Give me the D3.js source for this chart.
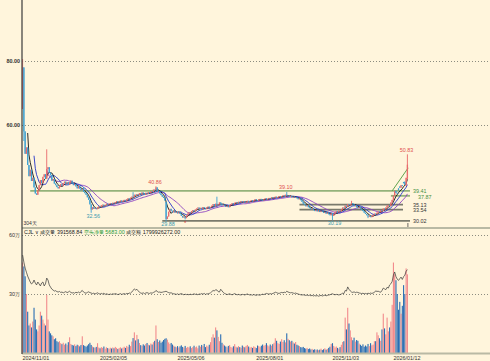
<!DOCTYPE html>
<html>
<head>
<meta charset="utf-8">
<title>K线 成交量</title>
<script src="https://d3js.org/d3.v7.min.js"></script>
<style>
body { margin: 0; background: #fff5dc; }
svg { display: block; font-family: "Liberation Sans", Arial, sans-serif; }
</style>
</head>
<body>
<div id="chart"></div>
<script>
// daily closes, 304 trading days
var closes = [
 78, 58, 51, 53, 47.5, 44, 46, 42.5, 43.5, 40.5,
 38.6, 38.2, 39.6, 41.2, 42.8, 41.9, 43.8, 44.6, 43.2, 46.2,
 46.8, 45.1, 44.3, 42.6, 43.1, 41.7, 41.2, 40.6, 40.2, 40.8,
 41.5, 40.9, 41.8, 42.3, 41.6, 42.1, 41.4, 42.0, 42.6, 41.8,
 41.2, 41.6, 40.8, 40.2, 40.9, 40.1, 39.6, 39.9, 39.1, 38.7,
 38.2, 37.4, 36.6, 35.2, 33.6, 34.3, 33.8, 34.1, 33.7, 34.2,
 34.6, 34.3, 34.9, 35.1, 34.7, 35.0, 35.4, 35.1, 35.3, 35.6,
 35.3, 35.7, 35.5, 35.9, 36.2, 35.8, 36.1, 36.4, 36.0, 36.3,
 36.6, 36.2, 36.8, 37.1, 36.7, 37.3, 37.6, 37.4, 38.2, 37.9,
 38.4, 38.1, 38.7, 38.3, 38.9, 38.6, 38.2, 38.8, 38.5, 39.0,
 38.7, 39.3, 39.1, 39.8, 39.6, 40.5, 39.2, 39.4, 38.6, 38.1,
 37.6, 37.2, 36.4, 30.6, 31.4, 32.9, 33.8, 33.2, 32.7, 33.1,
 32.6, 32.9, 32.4, 32.8, 32.2, 31.6, 31.1, 31.4, 30.9, 31.7,
 32.3, 32.8, 32.5, 33.1, 33.4, 33.0, 33.6, 33.9, 34.2, 33.8,
 34.1, 33.6, 34.3, 34.0, 33.7, 34.2, 34.5, 34.1, 34.4, 34.8,
 35.3, 34.6, 35.4, 34.9, 35.2, 35.8, 35.4, 34.9, 35.1, 34.7,
 34.4, 34.8, 34.3, 34.9, 35.3, 35.6, 35.2, 35.7, 35.9, 35.6,
 36.0, 35.8, 36.2, 35.9, 36.1, 35.7, 36.0, 36.3, 35.9, 36.2,
 36.5, 36.1, 36.4, 36.8, 36.5, 36.3, 36.7, 36.9, 36.6, 36.4,
 36.8, 37.1, 36.7, 36.9, 37.2, 37.0, 37.4, 37.1, 37.3, 37.6,
 37.2, 37.5, 37.8, 37.4, 37.7, 38.0, 37.6, 38.2, 37.8, 37.9,
 37.5, 37.8, 37.4, 37.6, 37.2, 37.5, 37.1, 36.8, 37.0, 36.5,
 36.0, 35.4, 35.0, 34.6, 34.9, 34.3, 34.0, 33.6, 33.9, 33.4,
 33.1, 33.5, 33.0, 33.3, 32.8, 33.2, 32.9, 32.5, 32.8, 32.3,
 32.6, 32.1, 31.8, 32.4, 31.6, 32.2, 32.8, 33.1, 32.7, 33.2,
 33.0, 33.6, 34.2, 34.0, 34.8, 34.5, 35.3, 34.9, 35.2, 35.6,
 35.2, 34.6, 34.9, 34.3, 34.0, 34.4, 33.8, 33.5, 33.1, 32.6,
 32.2, 31.8, 31.4, 31.6, 31.2, 31.5, 31.9, 32.3, 32.1, 32.6,
 33.0, 32.8, 33.4, 33.1, 33.9, 33.6, 34.2, 34.8, 35.0, 34.7,
 35.8, 36.6, 37.9, 39.4, 38.8, 38.5, 39.6, 40.4, 41.2, 40.9,
 41.8, 41.3, 43.5, 47.6
];
// opens that differ from the previous close
var gapOpens = { 0: 65, 113: 36.0, 296: 40.2, 297: 40.8, 300: 42.2, 301: 42.3, 302: 41.0, 303: 43.2 };
var highs = { 0: 80.6, 19: 52.4, 48: 40.6, 87: 39.0, 105: 40.86, 153: 37.6, 208: 39.10, 259: 36.3, 303: 50.83 };
var lows = { 1: 55, 54: 32.56, 113: 29.88, 128: 30.5, 244: 30.19, 272: 30.9 };

// 成交量, 万
var volumes = [
 46, 44, 39, 30, 21, 14, 15, 13, 16, 23,
 17, 12, 11, 14, 21, 19, 17, 15, 14, 29.5,
 17, 11, 10, 9, 8.5, 7, 7.5, 6, 5.5, 6,
 5, 4.5, 5.2, 4.2, 4.8, 4.0, 5.5, 8.0, 4.6, 4.1,
 3.8, 4.4, 3.5, 4.2, 3.9, 3.4, 4.1, 8.5, 4.0, 3.6,
 3.2, 3.8, 4.5, 5.2, 4.1, 3.3, 2.9, 2.6, 3.1, 5.0,
 2.8, 2.4, 3.0, 2.6, 3.3, 2.2, 2.9, 2.5, 2.1, 2.7,
 2.3, 2.8, 2.4, 3.1, 2.6, 2.0, 2.5, 2.9, 2.3, 2.7,
 3.2, 2.6, 3.6, 3.0, 4.2, 3.5, 5.8, 7.6, 10.5, 6.4,
 9.2, 7.0, 5.1, 4.0, 3.6, 4.4, 3.8, 4.6, 5.1, 4.2,
 3.9, 4.8, 4.3, 5.5, 6.2, 14.0, 7.0, 5.6, 6.4, 5.2,
 5.8, 6.6, 7.2, 7.5, 6.8, 5.4, 4.6, 5.1, 4.3, 3.7,
 3.2, 2.9, 3.5, 2.8, 3.4, 3.9, 3.1, 2.7, 3.6, 2.6,
 3.1, 2.8, 3.4, 2.5, 3.0, 3.7, 2.9, 3.3, 2.4, 3.8,
 3.2, 4.1, 3.5, 4.6, 3.0, 3.8, 3.3, 4.2, 5.5, 8.0,
 9.5, 7.8, 13.0, 11.5, 8.2, 6.0, 9.5, 5.2, 4.4, 3.8,
 3.3, 2.9, 3.6, 4.0, 3.1, 2.7, 3.4, 4.5, 3.2, 2.8,
 3.5, 3.0, 2.6, 3.8, 3.2, 2.9, 3.6, 4.1, 3.3, 2.7,
 3.1, 2.6, 3.4, 3.0, 2.5, 3.8, 3.5, 3.0, 3.7, 4.3,
 3.6, 4.1, 5.0, 3.9, 3.4, 4.3, 3.7, 4.5, 5.2, 7.5,
 6.2, 5.0, 4.6, 5.8, 7.0, 5.6, 6.5, 5.4, 10.0, 7.2,
 6.5, 5.8, 6.2, 5.4, 4.8, 5.6, 4.2, 3.8, 3.5, 3.0,
 2.8, 3.1, 2.5, 2.2, 2.6, 2.0, 2.3, 1.8, 2.1, 1.6,
 1.9, 1.5, 1.8, 1.4, 1.7, 2.2, 1.5, 1.9, 2.4, 1.7,
 2.1, 2.6, 3.2, 4.6, 5.0, 3.6, 2.8, 3.3, 2.6, 2.2,
 3.0, 4.2, 5.6, 6.0, 18.0, 12.0, 23.0, 15.0, 11.5, 8.0,
 6.5, 7.8, 5.8, 6.6, 6.2, 4.8, 4.2, 3.6, 4.4, 3.2,
 3.8, 3.3, 4.6, 3.5, 5.0, 3.9, 4.3, 6.0, 6.0, 10.5,
 9.0, 7.5, 6.2, 12.0, 20.0, 12.5, 9.5, 18.0, 11.0, 13.0,
 16.0, 24.5, 46.0, 40.0, 37.0, 30.0, 22.0, 26.0, 20.0, 24.0,
 34.5, 30.0, 43.0, 40.0
];

// CJL line in the volume pane, 万
var cjlLine = [
 49.8, 46.2, 43.2, 41.1, 39.1, 37.6, 36.1, 35.1, 35.6, 37.1,
 35.6, 34.6, 36.1, 35.1, 34.1, 35.6, 36.1, 34.1, 35.1, 38.1,
 37.1, 34.6, 33.5, 32.5, 32.0, 31.5, 31.7, 31.2, 31.0, 31.3,
 30.8, 31.0, 30.6, 30.9, 31.2, 30.7, 31.0, 31.4, 30.8, 30.5,
 30.7, 30.4, 30.9, 30.6, 31.0, 30.5, 31.3, 31.8, 31.0, 30.6,
 30.4, 30.8, 31.1, 30.7, 30.5, 30.2, 30.4, 30.0, 30.3, 30.6,
 30.2, 29.9, 30.3, 30.0, 30.4, 29.8, 30.1, 29.9, 29.7, 30.0,
 29.8, 30.1, 29.9, 30.2, 30.0, 29.7, 29.9, 30.2, 29.8, 30.0,
 30.2, 29.9, 30.3, 30.1, 30.5, 30.4, 31.0, 31.8, 32.6, 32.0,
 32.4, 31.6, 30.9, 30.5, 30.3, 30.6, 30.2, 30.5, 30.7, 30.4,
 30.3, 30.6, 30.4, 30.8, 31.0, 31.8, 31.3, 30.9, 31.0, 30.8,
 30.9, 31.1, 31.2, 31.4, 31.0, 30.7, 30.5, 30.6, 30.3, 30.1,
 30.0, 29.8, 30.1, 29.7, 30.0, 30.2, 29.9, 29.6, 29.9, 29.7,
 29.8, 29.6, 29.9, 29.7, 29.8, 30.1, 29.8, 30.0, 29.6, 30.0,
 29.9, 30.2, 29.9, 30.3, 29.8, 30.1, 30.0, 30.3, 30.6, 31.2,
 31.8, 31.5, 32.2, 32.0, 31.2, 31.0, 32.4, 31.6, 30.8, 30.3,
 30.0, 29.7, 29.9, 30.1, 29.8, 29.6, 29.9, 30.2, 29.8, 29.6,
 29.8, 29.6, 29.5, 29.8, 29.7, 29.5, 29.8, 30.0, 29.7, 29.5,
 29.6, 29.4, 29.7, 29.5, 29.3, 29.6, 29.5, 29.4, 29.7, 29.9,
 29.7, 30.0, 30.3, 30.1, 29.9, 30.2, 30.0, 30.3, 30.5, 30.9,
 30.7, 30.4, 30.3, 30.6, 30.8, 30.6, 30.9, 30.7, 31.4, 31.0,
 30.8, 30.6, 30.7, 30.5, 30.3, 30.5, 30.2, 30.0, 29.8, 29.6,
 29.5, 29.6, 29.4, 29.3, 29.5, 29.2, 29.4, 29.1, 29.3, 29.0,
 29.2, 29.0, 29.2, 28.9, 29.1, 29.3, 29.0, 29.2, 29.4, 29.1,
 29.3, 29.5, 29.6, 29.9, 30.1, 29.8, 29.6, 29.8, 29.7, 29.5,
 29.7, 30.0, 30.4, 30.2, 31.8, 31.5, 33.6, 32.4, 31.6, 31.0,
 30.8, 31.1, 30.7, 30.9, 30.8, 30.5, 30.4, 30.2, 30.4, 30.1,
 30.3, 30.1, 30.4, 30.2, 30.5, 30.3, 30.5, 30.8, 31.6, 31.3,
 31.4, 31.1, 30.9, 31.8, 33.0, 32.6, 32.2, 33.4, 33.0, 34.6,
 35.2, 36.4, 39.6, 41.2, 38.8, 37.6, 36.9, 37.8, 38.6, 37.4,
 38.8, 39.6, 41.6, 42.4
];

var dateLabels = ["2024/11/01", "2025/02/05", "2025/05/06", "2025/08/01", "2025/11/03", "2026/01/12"];
var dateIdx = [0, 61, 122, 184, 244, 292];
var priceTicks = [80, 60];
var volTicks = [60, 30];
var volTickLabels = ["60万", "30万"];
var levels = [39.41, 37.87, 35.13, 33.54, 30.02];
var levelFrom = [6, 290, 218, 218, 110];
var trendFrom = [291, 39.41], trendTo = [303.6, 46.6];
var peakIdx = [303, 105, 208];
var peakVals = [50.83, 40.86, 39.10];
var troughIdx = [54, 113, 244];
var troughVals = [32.56, 29.88, 30.19];

var width = 490, height = 361;
var upColor = "#e8686a", downColor = "#3a9fd2";
var volUp = "#f28a8c", volDown = "#2a6db3";

var svg = d3.select("#chart").append("svg")
    .attr("width", width)
    .attr("height", height);

svg.append("rect").attr("width", width).attr("height", height).attr("fill", "#fff5dc");

var n = closes.length;
var x = d3.scaleLinear().domain([0, n - 1]).range([22.6, 407.4]);
var y = d3.scaleLinear().domain([60, 80]).range([125, 61]);
var yv = d3.scaleLinear().domain([0, 60]).range([353, 235]);

var bars = closes.map(function (c, i) {
  var o = gapOpens[i] != null ? gapOpens[i] : (i > 0 ? closes[i - 1] : c);
  var h = Math.max(o, c), l = Math.min(o, c);
  if (highs[i] != null) h = highs[i];
  if (lows[i] != null) l = lows[i];
  return { i: i, o: o, c: c, h: h, l: l, v: volumes[i], up: c >= o };
});

function ma(k) {
  return closes.map(function (c, i) {
    if (i < k - 1) return null;
    return d3.mean(closes.slice(i - k + 1, i + 1));
  });
}

// grid
svg.selectAll(".pgrid").data(priceTicks).enter().append("line")
    .attr("x1", 22).attr("x2", width)
    .attr("y1", function (d) { return y(d) + 0.5; })
    .attr("y2", function (d) { return y(d) + 0.5; })
    .attr("stroke", "#8c8c80").attr("stroke-width", 1).attr("stroke-dasharray", "1,2");

svg.selectAll(".vgrid").data(volTicks).enter().append("line")
    .attr("x1", 22).attr("x2", width)
    .attr("y1", function (d) { return yv(d) + 0.5; })
    .attr("y2", function (d) { return yv(d) + 0.5; })
    .attr("stroke", "#8c8c80").attr("stroke-width", 1).attr("stroke-dasharray", "1,2");

svg.selectAll(".plab").data(priceTicks).enter().append("text")
    .attr("x", 20).attr("y", function (d) { return y(d) + 2; })
    .attr("text-anchor", "end").attr("font-size", 5.4).attr("font-weight", "bold").attr("fill", "#333")
    .text(function (d) { return d3.format(".2f")(d); });

svg.selectAll(".vlab").data(volTicks).enter().append("text")
    .attr("x", 20).attr("y", function (d) { return yv(d) + 2; })
    .attr("text-anchor", "end").attr("font-size", 5.4).attr("fill", "#333")
    .text(function (d, i) { return volTickLabels[i]; });

// support / resistance levels
svg.selectAll(".level").data(levels).enter().append("line")
    .attr("x1", function (d, i) { return x(levelFrom[i]); })
    .attr("x2", function (d, i) { return i < 2 ? 410 : (i < 4 ? 403 : 410); })
    .attr("y1", function (d) { return y(d); })
    .attr("y2", function (d) { return y(d); })
    .attr("stroke", function (d, i) { return i < 2 ? "#94b27a" : "#7a7a6c"; })
    .attr("stroke-width", 1.8);

svg.selectAll(".levlab").data(levels).enter().append("text")
    .attr("x", function (d, i) { return i == 1 ? 418 : 413; })
    .attr("y", function (d, i) { return y(d) + (i == 1 ? 3 : 2); })
    .attr("font-size", 5.4)
    .attr("fill", function (d, i) { return i < 2 ? "#3f8f3f" : "#333"; })
    .text(function (d) { return d3.format(".2f")(d); });

svg.append("line")
    .attr("x1", x(trendFrom[0])).attr("y1", y(trendFrom[1]))
    .attr("x2", x(trendTo[0])).attr("y2", y(trendTo[1]))
    .attr("stroke", "#4f9a3f").attr("stroke-width", 0.9);

// moving averages (drawn under the candles)
var maSets = [[20, "#8a3fc0"], [10, "#2233c8"], [5, "#111"]];
var line = d3.line()
    .defined(function (d) { return d != null; })
    .x(function (d, i) { return x(i); })
    .y(function (d) { return y(d); });
maSets.forEach(function (m) {
  svg.append("path").datum(ma(m[0]))
      .attr("d", line).attr("fill", "none")
      .attr("stroke", m[1]).attr("stroke-width", 0.9);
});

// candles
var candle = svg.append("g");
candle.selectAll(".wick").data(bars).enter().append("line")
    .attr("x1", function (d) { return x(d.i); })
    .attr("x2", function (d) { return x(d.i); })
    .attr("y1", function (d) { return y(d.h); })
    .attr("y2", function (d) { return y(d.l); })
    .attr("stroke", function (d) { return d.up ? upColor : downColor; })
    .attr("stroke-width", 0.9);
candle.selectAll(".body").data(bars).enter().append("rect")
    .attr("x", function (d) { return x(d.i) - 0.65; })
    .attr("width", 1.3)
    .attr("y", function (d) { return y(Math.max(d.o, d.c)); })
    .attr("height", function (d) { return Math.max(0.8, y(Math.min(d.o, d.c)) - y(Math.max(d.o, d.c))); })
    .attr("fill", function (d) { return d.up ? upColor : downColor; })
    .attr("fill-opacity", 0.9);

// high / low labels
svg.selectAll(".peak").data(peakVals).enter().append("text")
    .attr("x", function (d, i) { return x(peakIdx[i]) - 1; })
    .attr("y", function (d) { return y(d) - 2.5; })
    .attr("text-anchor", "middle").attr("font-size", 5.4).attr("fill", "#e0504e")
    .text(function (d) { return d3.format(".2f")(d); });

svg.selectAll(".trough").data(troughVals).enter().append("text")
    .attr("x", function (d, i) { return x(troughIdx[i]) + 2; })
    .attr("y", function (d) { return y(d) + 5; })
    .attr("text-anchor", "middle").attr("font-size", 5.4).attr("fill", "#3a9ab0")
    .text(function (d) { return d3.format(".2f")(d); });

svg.append("text").attr("x", x(128)).attr("y", y(30.5) + 6)
    .attr("text-anchor", "middle").attr("font-size", 6).attr("fill", "#d03030").text("*");
svg.append("line").attr("x1", x(n - 1) + 0.5).attr("x2", x(n - 1) + 0.5)
    .attr("y1", 223).attr("y2", 227).attr("stroke", "#444").attr("stroke-width", 0.8);

// pane separator and header
svg.append("line").attr("x1", 22).attr("x2", width).attr("y1", 228).attr("y2", 228)
    .attr("stroke", "#b9b9a4").attr("stroke-width", 2);

svg.append("text").attr("x", 23.5).attr("y", 225).attr("font-size", 5).attr("fill", "#333").text("304天");

var header = svg.append("text").attr("x", 24).attr("y", 234).attr("font-size", 5.4).attr("fill", "#222");
header.append("tspan").text("CJL \u2228  成交量 391568.84  ");
header.append("tspan").attr("fill", "#2a9a3a").text("空头净量 5683.00  ");
header.append("tspan").text("成交额 1799926272.00");

// volume bars
svg.selectAll(".vol").data(bars).enter().append("rect")
    .attr("x", function (d) { return x(d.i) - 0.55; })
    .attr("width", 1.1)
    .attr("y", function (d) { return yv(d.v); })
    .attr("height", function (d) { return yv(0) - yv(d.v); })
    .attr("fill", function (d) { return d.up ? volUp : volDown; });

svg.append("path").datum(cjlLine)
    .attr("d", d3.line().x(function (d, i) { return x(i); }).y(function (d) { return yv(d); }))
    .attr("fill", "none").attr("stroke", "#333").attr("stroke-width", 0.7);

// axes
svg.append("line").attr("x1", 22).attr("x2", width).attr("y1", 353.5).attr("y2", 353.5)
    .attr("stroke", "#b9b9a4").attr("stroke-width", 2);
svg.append("line").attr("x1", 22).attr("x2", 22).attr("y1", 0).attr("y2", 354)
    .attr("stroke", "#3a3a3a").attr("stroke-width", 1.2);

svg.selectAll(".date").data(dateLabels).enter().append("text")
    .attr("x", function (d, i) { return x(dateIdx[i]); })
    .attr("y", 360)
    .attr("font-size", 5.4).attr("fill", "#333")
    .text(function (d) { return d; });
</script>
</body>
</html>
